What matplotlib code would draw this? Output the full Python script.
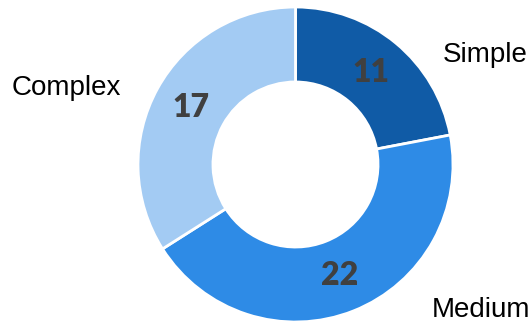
import matplotlib
matplotlib.use("Agg")
import matplotlib.pyplot as plt

categories = ["Simple", "Medium", "Complex"]
values = [11, 22, 17]
colors = ["#105BA6", "#2E8BE6", "#A3CBF3"]

W, H = 531, 324
fig = plt.figure(figsize=(W / 100, H / 100), dpi=100)
cx, cy, R = 295.5, 164.5, 157.5
ax = fig.add_axes([(cx - R) / W, (H - cy - R) / H, 2 * R / W, 2 * R / H])

wedges, texts, autotexts = ax.pie(
    values, colors=colors, startangle=90, counterclock=False, radius=1,
    wedgeprops=dict(width=0.476, edgecolor="white", linewidth=2),
    autopct=lambda p: f"{round(p * sum(values) / 100):d}", pctdistance=0.755,
    textprops=dict(fontsize=23, fontweight="heavy", color="#404040", family="Lato"),
)
ax.set_xlim(-1, 1)
ax.set_ylim(-1, 1)
ax.set_aspect("equal")
ax.axis("off")

label_pos = {"Simple": (485, 55), "Medium": (481, 310), "Complex": (66, 88)}
for cat in categories:
    x, y = label_pos[cat]
    fig.text(x / W, 1 - y / H, cat, ha="center", va="center", fontsize=20,
             family="Liberation Sans", color="black")

fig.savefig("out.png", dpi=100)
